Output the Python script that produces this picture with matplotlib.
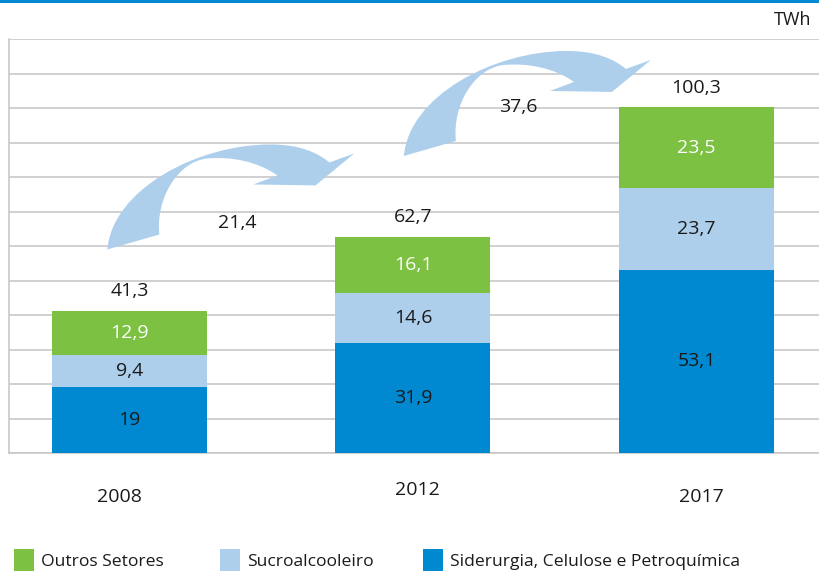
import matplotlib.pyplot as plt
from matplotlib.patches import Rectangle, PathPatch
from matplotlib.path import Path

plt.rcParams['font.family'] = ['Open Sans', 'DejaVu Sans']

years = ['2008', '2012', '2017']
siderurgia = [19.0, 31.9, 53.1]
sucro = [9.4, 14.6, 23.7]
outros = [12.9, 16.1, 23.5]
totals = [41.3, 62.7, 100.3]
increments = ['21,4', '37,6']

c_blue = '#0088d0'
c_light = '#aecfec'
c_green = '#7cc142'
c_grid = '#c8c8c8'


def fmt(v):
    s = ('%.1f' % v).rstrip('0').rstrip('.')
    return s.replace('.', ',')


W, H = 820, 571
fig = plt.figure(figsize=(W / 100, H / 100), dpi=100)
ax = fig.add_axes([9.5 / W, (H - 453) / H, (819 - 9.5) / W, (453 - 39) / H])

# px -> data scales
px_x = 283.5   # px per category
px_y = 3.45    # px per TWh

ax.set_xlim((9.5 - 129.5) / px_x, (819 - 129.5) / px_x)
ax.set_ylim(0, 120)
ax.set_yticks(range(0, 121, 10))
ax.set_xticks([])
ax.tick_params(left=False, labelleft=False)
ax.yaxis.grid(True, color=c_grid, linewidth=1.2)
ax.set_axisbelow(True)
for s in ['top', 'right']:
    ax.spines[s].set_visible(False)
for s in ['left', 'bottom']:
    ax.spines[s].set_color(c_grid)
    ax.spines[s].set_linewidth(1.2)

x = range(len(years))
bw = 155 / px_x
ax.bar(x, siderurgia, width=bw, color=c_blue, zorder=3)
ax.bar(x, sucro, width=bw, bottom=siderurgia, color=c_light, zorder=3)
bott = [a + b for a, b in zip(siderurgia, sucro)]
ax.bar(x, outros, width=bw, bottom=bott, color=c_green, zorder=3)

fs = 14
for i in x:
    ax.text(i, siderurgia[i] / 2, fmt(siderurgia[i]), ha='center', va='center',
            fontsize=fs, color='#1a1a1a', zorder=5)
    ax.text(i, siderurgia[i] + sucro[i] / 2, fmt(sucro[i]), ha='center', va='center',
            fontsize=fs, color='#1a1a1a', zorder=5)
    ax.text(i, bott[i] + outros[i] / 2, fmt(outros[i]), ha='center', va='center',
            fontsize=fs, color='white', zorder=5)
    ax.annotate(fmt(totals[i]), (i, totals[i]), xytext=(0, 14), textcoords='offset points',
                ha='center', va='center', fontsize=fs, color='#1a1a1a')

# curved arrows (shape in px offsets from base-left corner, y up)
shape = [
    (Path.MOVETO, (0, 0)),
    (Path.CURVE4, (5, 60)), (Path.CURVE4, (90, 105)), (Path.CURVE4, (163, 105)),
    (Path.CURVE4, (192, 105)), (Path.CURVE4, (210, 97)), (Path.CURVE4, (222, 87)),
    (Path.LINETO, (247, 96)),
    (Path.LINETO, (208, 64)),
    (Path.LINETO, (146, 65)),
    (Path.LINETO, (170, 74)),
    (Path.CURVE4, (150, 88)), (Path.CURVE4, (125, 93)), (Path.CURVE4, (100, 91)),
    (Path.CURVE4, (70, 88)), (Path.CURVE4, (48, 50)), (Path.CURVE4, (52, 15)),
    (Path.CLOSEPOLY, (0, 0)),
]
arrow_anchor = [(-0.078, 59.0), (0.968, 86.1)]
for ax0, ay0 in arrow_anchor:
    verts = [(ax0 + p[0] / px_x, ay0 + p[1] / px_y) for _, p in shape]
    codes = [c for c, _ in shape]
    ax.add_patch(PathPatch(Path(verts, codes), facecolor=c_light, edgecolor='none', zorder=4))

inc_pos = [(0.379, 66.7), (1.370, 100.3)]
for (tx, ty), lab in zip(inc_pos, increments):
    ax.text(tx, ty, lab, ha='center', va='center', fontsize=fs, color='#1a1a1a')

# year labels
year_px = [(119, 497), (417, 490), (701, 497)]
for (px, py), lab in zip(year_px, years):
    fig.text(px / W, 1 - py / H, lab, ha='center', va='center', fontsize=fs, color='#1a1a1a')

fig.text(793 / W, 1 - 20 / H, 'TWh', ha='center', va='center', fontsize=13, color='#1a1a1a')

# top stripe
fig.add_artist(Rectangle((0, 1 - 3 / H), 1, 3 / H, transform=fig.transFigure,
                         facecolor=c_blue, edgecolor='none'))

# legend
leg = [('Outros Setores', c_green, 14), ('Sucroalcooleiro', c_light, 220),
       ('Siderurgia, Celulose e Petroquímica', c_blue, 423)]
for lab, col, lx in leg:
    fig.add_artist(Rectangle((lx / W, 1 - 571 / H), 20 / W, 22 / H, transform=fig.transFigure,
                             facecolor=col, edgecolor='none'))
    fig.text((lx + 27) / W, 1 - 562 / H, lab, ha='left', va='center', fontsize=12.6, color='#1a1a1a')

fig.savefig('out.png', dpi=100)
